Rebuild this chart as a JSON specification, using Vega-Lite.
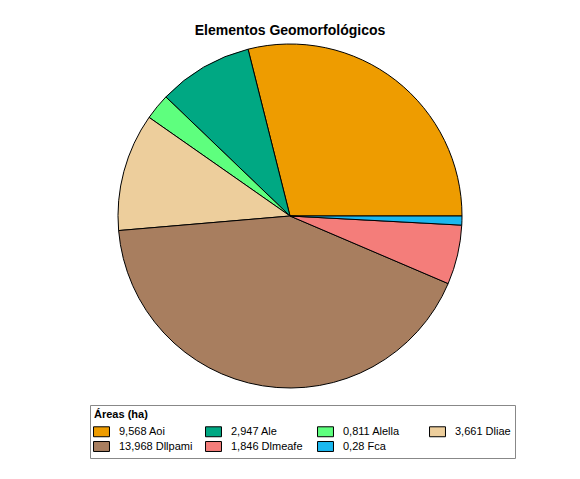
{
  "$schema": "https://vega.github.io/schema/vega-lite/v6.json",
  "width": 580,
  "height": 432,
  "autosize": "none",
  "padding": {"left": 0, "top": 0, "right": 0, "bottom": 47},
  "background": "white",
  "title": {"text": "Elementos Geomorfológicos", "offset": -38, "anchor": "middle", "font": "Liberation Sans", "fontSize": 14, "fontWeight": "bold", "color": "#000000"},
  "data": {"values": [
    {"label": "9,568 Aoi", "area": 9.568, "ord": 7},
    {"label": "2,947 Ale", "area": 2.947, "ord": 6},
    {"label": "0,811 Alella", "area": 0.811, "ord": 5},
    {"label": "3,661 Dliae", "area": 3.661, "ord": 4},
    {"label": "13,968 Dllpami", "area": 13.968, "ord": 3},
    {"label": "1,846 Dlmeafe", "area": 1.846, "ord": 2},
    {"label": "0,28 Fca", "area": 0.28, "ord": 1}
  ]},
  "mark": {"type": "arc", "outerRadius": 172, "stroke": "#000000", "strokeWidth": 1},
  "encoding": {
    "theta": {"field": "area", "type": "quantitative", "stack": true, "scale": {"range": [1.5708, 7.854]}},
    "order": {"field": "ord", "type": "quantitative", "sort": "ascending"},
    "color": {
      "field": "label", "type": "nominal",
      "scale": {
        "domain": ["9,568 Aoi", "2,947 Ale", "0,811 Alella", "3,661 Dliae", "13,968 Dllpami", "1,846 Dlmeafe", "0,28 Fca"],
        "range": ["#EE9C00", "#00A883", "#5EFF7E", "#EDCE9C", "#A87E5F", "#F47D7A", "#1AB8F0"]
      },
      "legend": {
        "title": "Áreas (ha)",
        "orient": "none",
        "direction": "horizontal",
        "legendX": 90,
        "legendY": 405,
        "columns": 4,
        "gridAlign": "all",
        "columnPadding": 10,
        "rowPadding": 0,
        "padding": 4,
        "strokeColor": "#888888",
        "fillColor": "white",
        "titleFont": "Liberation Sans",
        "titleFontSize": 11,
        "titleFontWeight": "bold",
        "titleColor": "#000000",
        "titlePadding": 4,
        "labelFont": "Liberation Sans",
        "labelFontSize": 11,
        "labelColor": "#000000",
        "labelOffset": 10,
        "symbolType": "M-1.14,-0.71H1.14V0.71H-1.14Z",
        "symbolSize": 196,
        "symbolStrokeColor": "#000000",
        "symbolStrokeWidth": 1,
        "symbolOpacity": 1
      }
    }
  },
  "config": {"view": {"stroke": null}}
}
